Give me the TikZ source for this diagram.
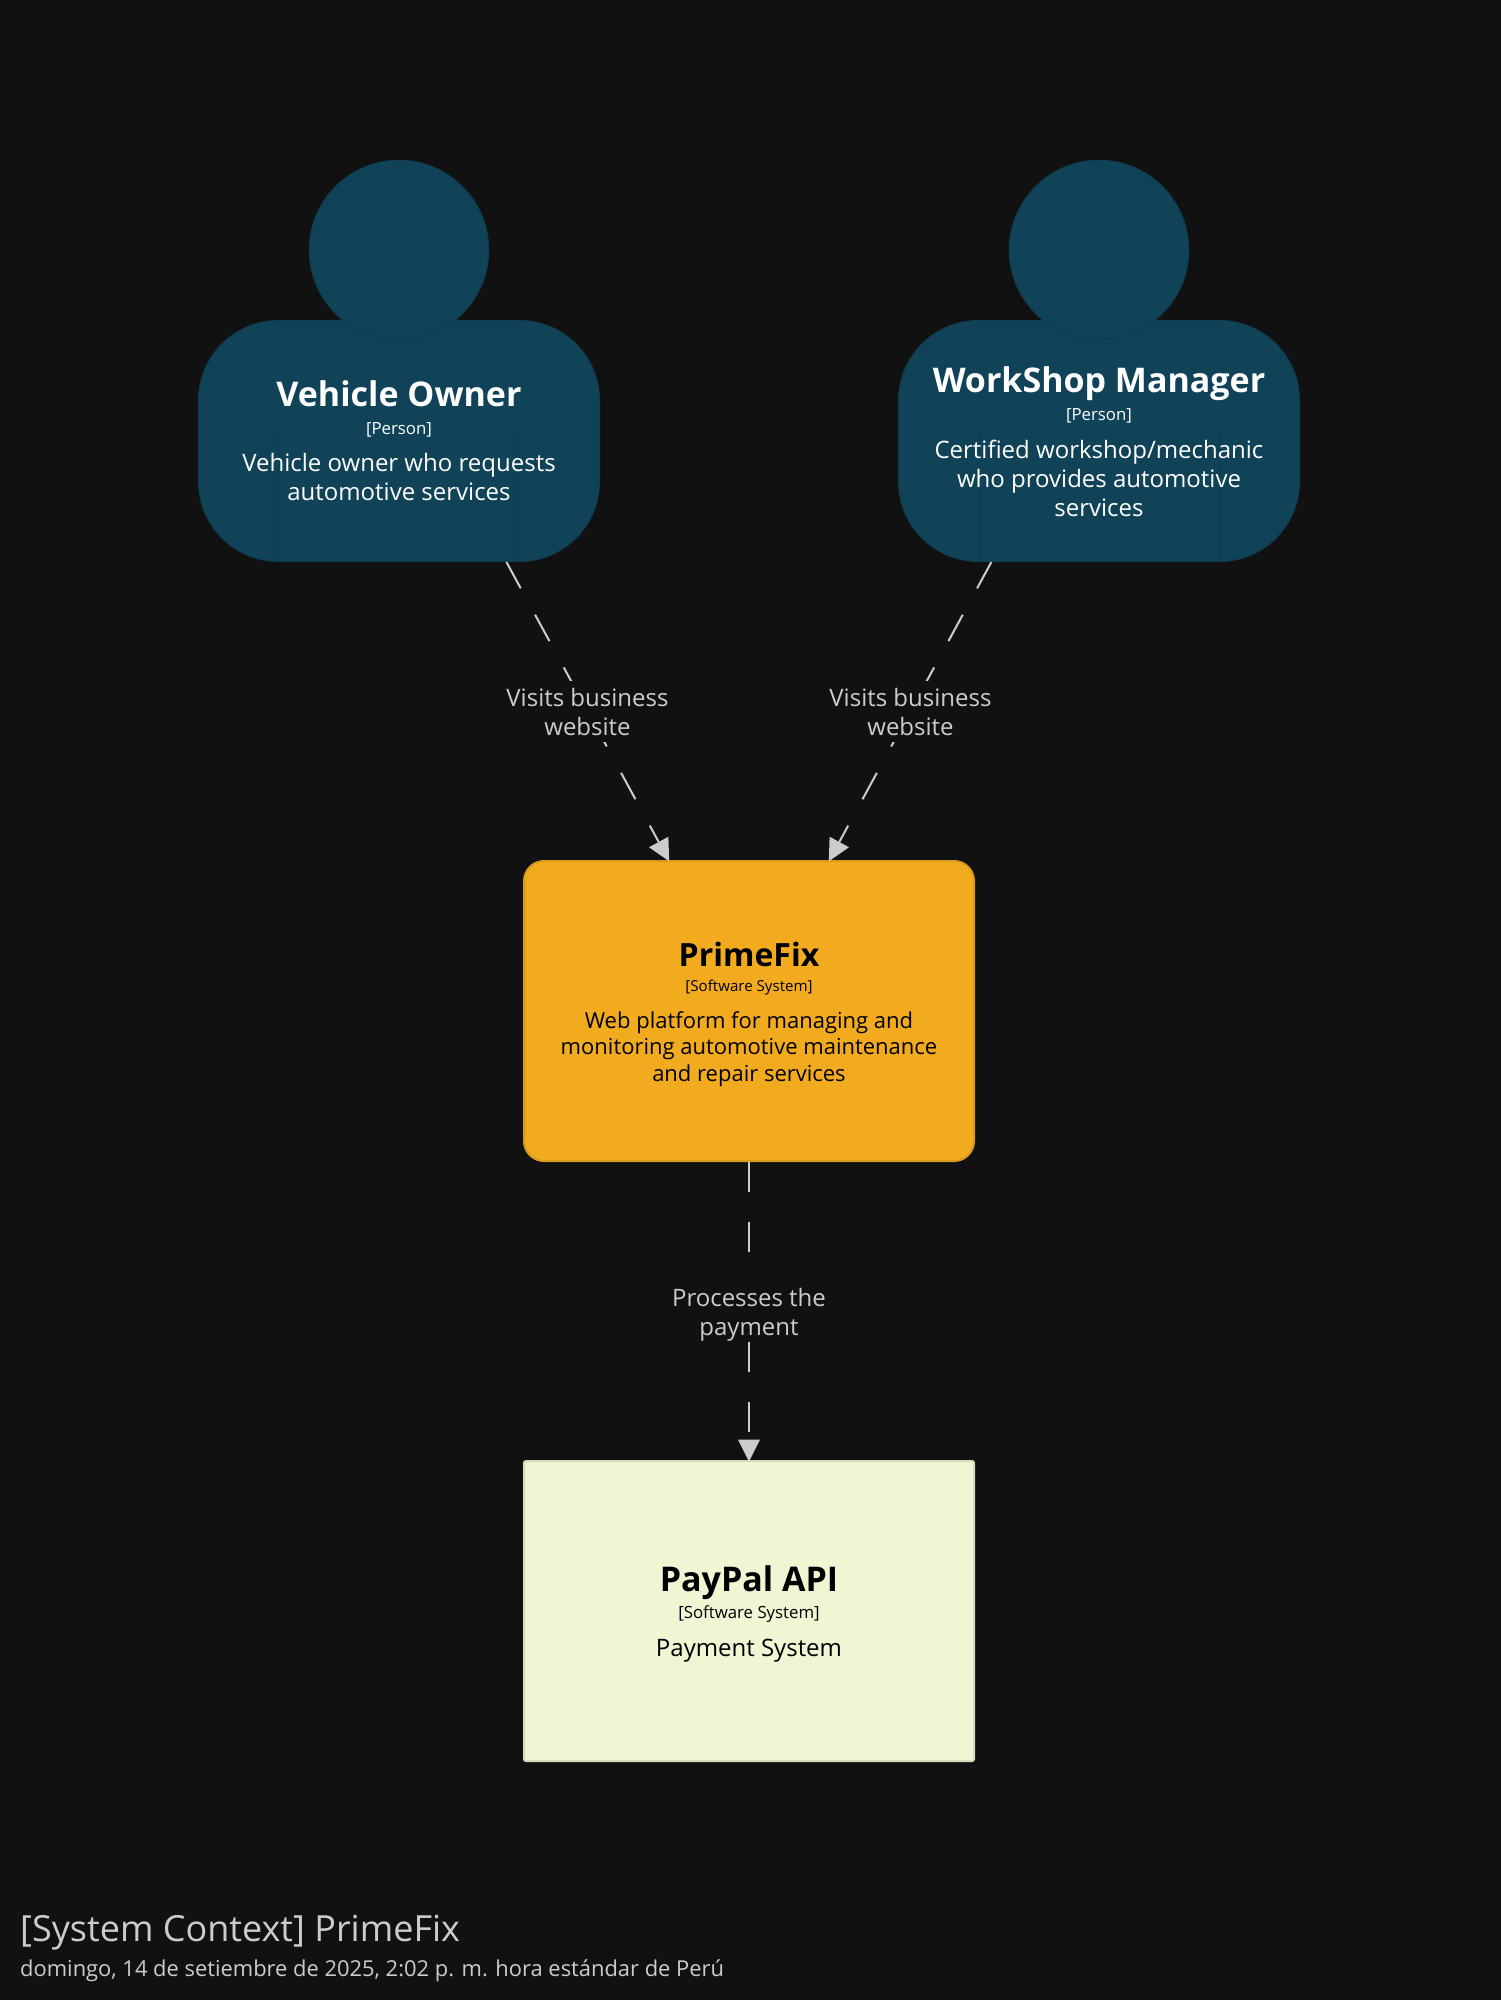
\documentclass[tikz,border=0pt]{standalone}
\usepackage{fontspec}
\setmainfont{Open Sans}
\usetikzlibrary{arrows.meta}
\definecolor{bgc}{HTML}{111111}
\definecolor{personfill}{HTML}{114358}
\definecolor{personline}{HTML}{0F3C4F}
\definecolor{primefill}{HTML}{F2AB1E}
\definecolor{primeline}{HTML}{DA9A1B}
\definecolor{payfill}{HTML}{F0F5D3}
\definecolor{payline}{HTML}{D7DCBC}
\definecolor{linkc}{HTML}{CCCCCC}
\newcommand{\fs}[1]{\fontsize{#1}{#1}\selectfont}
\newcommand{\linklab}[2]{\rule{0pt}{25pt}#1\\#2\rule[-6.5pt]{0pt}{6.5pt}}
\tikzset{
  x=1pt,y=-1pt,
  personbody/.style={draw=personline,line width=1pt,fill=personfill,rounded corners=80pt,minimum width=401pt,minimum height=241pt,inner sep=0pt},
  personhead/.style={circle,draw=personline,line width=1pt,fill=personfill,minimum size=179.5pt,inner sep=0pt},
  seam/.style={draw=personline,line width=1pt},
  primebox/.style={draw=primeline,line width=2pt,fill=primefill,rounded corners=20pt,minimum width=450pt,minimum height=300pt,inner sep=0pt},
  paybox/.style={draw=payline,line width=2pt,fill=payfill,rounded corners=2pt,minimum width=450pt,minimum height=300pt,inner sep=0pt},
  nametext/.style={anchor=base,inner sep=0pt,font=\bfseries\fs{34}},
  typetext/.style={anchor=base,inner sep=0pt,font=\fs{16.8}},
  desctext/.style={anchor=base,inner sep=0pt,align=center,font=\fontsize{24}{29}\selectfont},
  link/.style={draw=linkc,line width=2pt,dash pattern=on 30pt off 30pt,shorten >=-1.5pt,-{Triangle[length=22pt,width=22pt,line width=0pt,fill=linkc]}},
  linklabel/.style={anchor=base,fill=bgc,inner sep=0pt,align=center,text=linkc,font=\fontsize{24}{29}\selectfont,minimum width=170pt},
  titletext/.style={anchor=base west,inner sep=0pt,text=linkc}
}
\begin{document}
\begin{tikzpicture}
\useasboundingbox (0,0) rectangle (1500,2000);
\fill[bgc] (-5,-5) rectangle (1505,2005);

% Vehicle Owner
\node[personbody] (owner) at (399,441) {};
\draw[seam] (279,428) -- (279,561);
\draw[seam] (519,428) -- (519,561);
\node[personhead] (ownerhead) at (399,250) {};
\node[nametext,text=white] (ownername) at (399,406) {Vehicle Owner};
\node[typetext,text=white] (ownertype) at (399,434) {[Person]};
\node[desctext,text=white] (ownerdesc) at (399,500.5) {Vehicle owner who requests\\automotive services};

% Workshop Manager
\node[personbody] (manager) at (1099,441) {};
\draw[seam] (979,428) -- (979,561);
\draw[seam] (1219,428) -- (1219,561);
\node[personhead] (managerhead) at (1099,250) {};
\node[nametext,text=white] (managername) at (1099,392) {WorkShop Manager};
\node[typetext,text=white] (managertype) at (1099,420) {[Person]};
\node[desctext,text=white] (managerdesc) at (1099,516) {Certified workshop/mechanic\\who provides automotive\\services};

% PrimeFix
\node[primebox] (prime) at (749,1011) {};
\node[nametext,font=\bfseries\fs{32},text=black] (primename) at (749,966) {PrimeFix};
\node[typetext,font=\fs{15.1},text=black] (primetype) at (749,991) {[Software System]};
\node[desctext,font=\fontsize{22}{26.5}\selectfont,text=black] (primedesc) at (749,1081) {Web platform for managing and\\monitoring automotive maintenance\\and repair services};

% PayPal
\node[paybox] (pay) at (749,1611) {};
\node[nametext,text=black] (payname) at (749,1591) {PayPal API};
\node[typetext,text=black] (paytype) at (749,1618) {[Software System]};
\node[desctext,text=black] (paydesc) at (749,1656) {Payment System};

% Connectors
\draw[link] ([xshift=107.4pt]owner.south) -- ([xshift=-80.5pt]prime.north);
\draw[link] ([xshift=-107.6pt]manager.south) -- ([xshift=80.5pt]prime.north);
\draw[link] (prime.south) -- (pay.north);
\node[linklabel] (lab1) at (587.5,735) {\linklab{Visits business}{website}};
\node[linklabel] (lab2) at (910.5,735) {\linklab{Visits business}{website}};
\node[linklabel,minimum width=160pt] (lab3) at (749,1335) {\linklab{Processes the}{payment}};

% Title
\node[titletext,font=\fs{36}] (title) at (20,1941) {[System Context] PrimeFix};
\node[titletext,font=\fs{21.9}] (subtitle) at (20,1976) {domingo, 14 de setiembre de 2025, 2:02 p. m. hora estándar de Perú};
\end{tikzpicture}
\end{document}
